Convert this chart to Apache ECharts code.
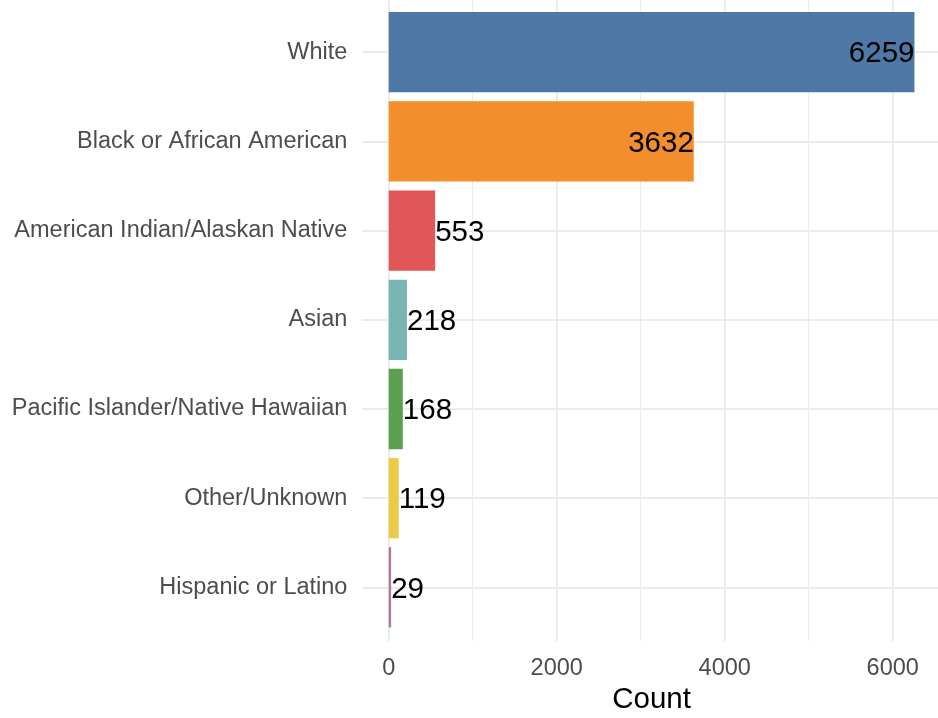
<!DOCTYPE html>
<html>
<head>
<meta charset="utf-8">
<script src="https://cdn.jsdelivr.net/npm/echarts@6/dist/echarts.min.js"></script>
<style>
html,body{margin:0;padding:0;background:#fff;}
#chart{width:938px;height:718px;}
</style>
</head>
<body>
<div id="chart"></div>
<script>
const categories = ["White", "Black or African American", "American Indian/Alaskan Native", "Asian", "Pacific Islander/Native Hawaiian", "Other/Unknown", "Hispanic or Latino"];
const counts = [6259, 3632, 553, 218, 168, 119, 29];
const barColors = ["#4E79A7", "#F28E2B", "#E15759", "#76B7B2", "#59A14F", "#EDC948", "#B07AA1"];
const axisTitle = "Count";

const FONT = "'Liberation Sans', Arial, sans-serif";
const PX = 0.084;          // pixels per unit
const X0 = 388.7;          // pixel of value 0
const XMIN = -313, XMAX = 6572;

const chart = echarts.init(document.getElementById('chart'), null, {renderer: 'canvas'});

const barData = counts.map((v, i) => ({
  value: v,
  itemStyle: {color: barColors[i]},
  label: {position: v > 1000 ? 'insideRight' : 'right', distance: 0}
}));

chart.setOption({
  backgroundColor: '#fff',
  animation: false,
  grid: [
    {left: X0, top: 0, width: (XMAX - 0) * PX, height: 641, outerBoundsMode: 'none', containLabel: false},
    {left: X0 + XMIN * PX, top: 52.2, width: (XMAX - XMIN) * PX, height: 535.2, outerBoundsMode: 'none', containLabel: false}
  ],
  xAxis: [
    {
      gridIndex: 0, type: 'value', min: 0, max: XMAX, interval: 2000,
      axisLine: {show: false}, axisTick: {show: false},
      axisLabel: {fontFamily: FONT, fontSize: 23.5, color: '#4D4D4D', margin: 16, showMaxLabel: false,
        formatter: v => String(v)},
      splitLine: {show: true, lineStyle: {color: '#EBEBEB', width: 2}}
    },
    {
      gridIndex: 0, type: 'value', min: 0, max: XMAX, interval: 1000,
      axisLine: {show: false}, axisTick: {show: false}, axisLabel: {show: false},
      splitLine: {show: true, lineStyle: {color: '#EBEBEB', width: 1}}
    },
    {
      gridIndex: 1, type: 'value', min: XMIN, max: XMAX,
      axisLine: {show: false}, axisTick: {show: false}, axisLabel: {show: false},
      splitLine: {show: false},
      name: axisTitle, nameLocation: 'middle', nameGap: 97,
      nameTextStyle: {fontFamily: FONT, fontSize: 29.5, color: '#000'}
    }
  ],
  yAxis: [
    {gridIndex: 0, type: 'value', show: false},
    {
      gridIndex: 1, type: 'category', data: categories, inverse: true, boundaryGap: false,
      axisLine: {show: false}, axisTick: {show: false},
      axisLabel: {fontFamily: FONT, fontSize: 23.5, color: '#4D4D4D', margin: 15, padding: [4, 0, 0, 0]},
      splitLine: {show: true, lineStyle: {color: '#EBEBEB', width: 2}}
    }
  ],
  series: [{
    type: 'bar',
    xAxisIndex: 2, yAxisIndex: 1,
    data: barData,
    barWidth: '90%',
    clip: false,
    label: {show: true, fontFamily: FONT, fontSize: 29.5, color: '#000', offset: [0, 2]},
    z: 3
  }]
});
</script>
</body>
</html>
